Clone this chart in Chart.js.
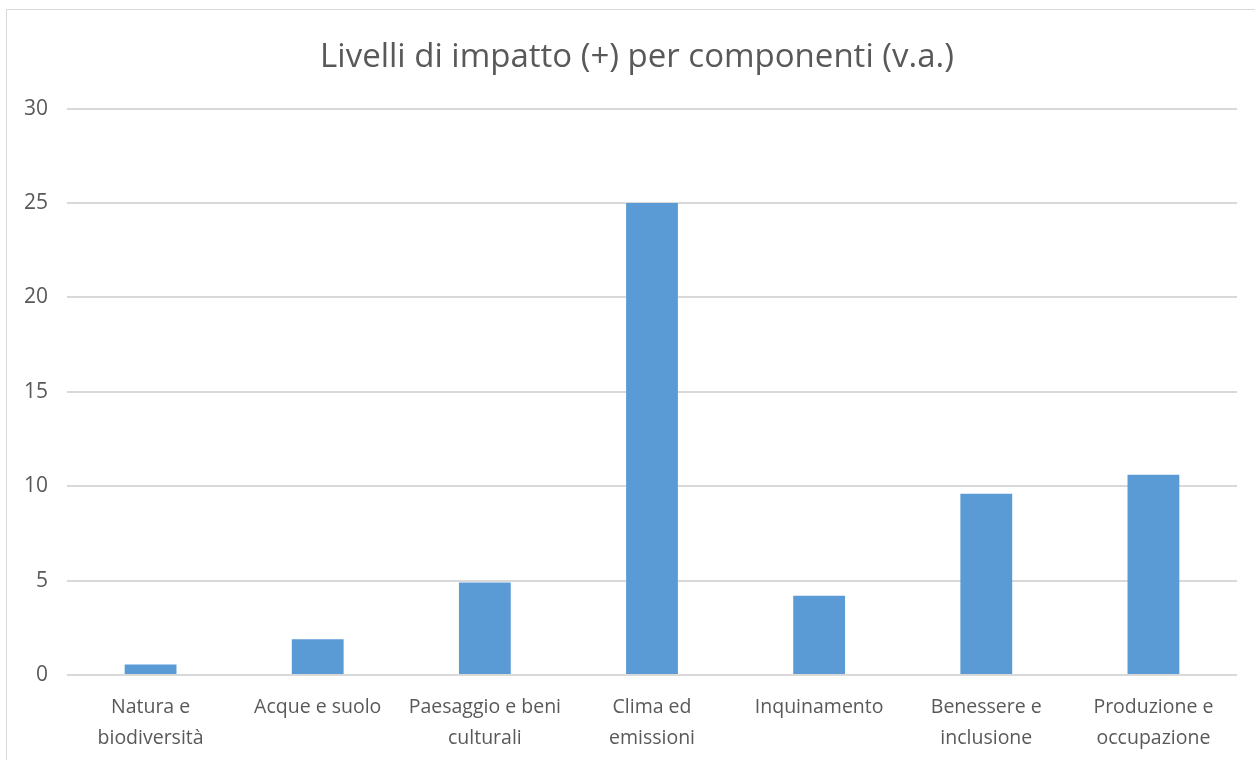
<!DOCTYPE html>
<html>
<head>
<meta charset="utf-8">
<script src="https://cdn.jsdelivr.net/npm/chart.js@4/dist/chart.umd.min.js"></script>
<style>
  body { margin: 0; background: #fff; }
  #wrap { position: relative; width: 1255px; height: 760px; overflow: hidden; }
  #frame { position: absolute; left: 6px; top: 9px; width: 1300px; height: 800px; border: 1px solid #d9d9d9; pointer-events: none; }
</style>
</head>
<body>
<div id="wrap">
  <canvas id="chart" width="1255" height="760"></canvas>
  <div id="frame"></div>
</div>
<script>
const categories = [
  ['Natura e', 'biodiversità'],
  'Acque e suolo',
  ['Paesaggio e beni', 'culturali'],
  ['Clima ed', 'emissioni'],
  'Inquinamento',
  ['Benessere e', 'inclusione'],
  ['Produzione e', 'occupazione']
];
const values = [0.55, 1.9, 4.9, 25, 4.2, 9.6, 10.6];
const yTicks = [0, 5, 10, 15, 20, 25, 30];

const textColor = '#595959';
const gridColor = '#d9d9d9';

const ctx = document.getElementById('chart').getContext('2d');
new Chart(ctx, {
  type: 'bar',
  data: {
    labels: categories,
    datasets: [{
      data: values,
      backgroundColor: '#5b9bd5',
      borderWidth: 0,
      categoryPercentage: 1,
      barPercentage: 0.31,
    }],
  },
  options: {
    responsive: false,
    animation: false,
    // the original frame runs past the right edge, so the title is centred on
    // a box wider than the canvas; an empty right axis pulls the plot back in
    layout: { padding: { left: 0, right: -19, top: 0, bottom: 0 } },
    plugins: {
      legend: { display: false },
      tooltip: { enabled: false },
      title: {
        display: true,
        text: 'Livelli di impatto (+) per componenti (v.a.)',
        color: textColor,
        font: { family: 'Open Sans', size: 33, weight: 'normal', lineHeight: 1.2 },
        padding: { top: 38, bottom: 31 },
      },
    },
    scales: {
      x: {
        grid: { display: false },
        border: { display: false },
        ticks: {
          color: textColor,
          font: { family: 'Open Sans', size: 19.5, lineHeight: 1.6 },
          padding: 9,
          maxRotation: 0,
          autoSkip: false,
        },
        afterFit: (scale) => { scale.width = scale.width; scale.height = 85; },
      },
      y: {
        min: 0,
        max: 30,
        afterBuildTicks: (scale) => { scale.ticks = yTicks.map(v => ({ value: v })); },
        grid: { color: gridColor, lineWidth: 2, drawTicks: false },
        border: { display: false },
        ticks: {
          color: textColor,
          font: { family: 'Open Sans', size: 21 },
          padding: 19,
        },
        afterFit: (scale) => { scale.width = 67; },
      },
      yRight: {
        position: 'right',
        min: 0,
        max: 30,
        grid: { display: false },
        border: { display: false },
        ticks: { display: false },
        afterFit: (scale) => { scale.width = 37; },
      },
    },
  },
});
</script>
</body>
</html>
